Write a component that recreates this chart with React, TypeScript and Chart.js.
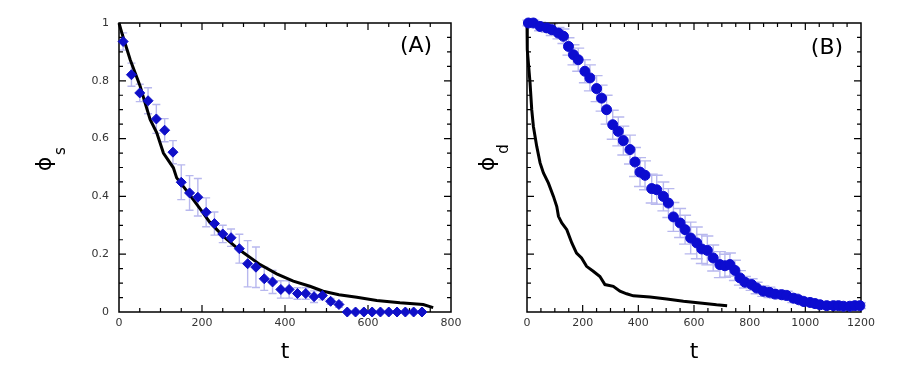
import { useEffect, useRef } from "react";
import { Chart, registerables } from "chart.js";
Chart.register(...registerables);

// ---------- Panel A data ----------
const tLineA = [0, 8, 27, 51, 63, 75, 91, 107, 131, 139, 160, 179, 200, 219, 240, 260, 280, 300, 340, 380, 420, 460, 492, 530, 573, 621, 677, 733, 757];
const phiLineA = [1.0, 0.96, 0.873, 0.781, 0.723, 0.666, 0.62, 0.55, 0.499, 0.464, 0.425, 0.389, 0.348, 0.31, 0.279, 0.251, 0.227, 0.205, 0.164, 0.132, 0.107, 0.089, 0.072, 0.06, 0.051, 0.04, 0.032, 0.026, 0.015];
const tDiamondA = [10, 30, 50, 70, 90, 110, 130, 150, 170, 190, 210, 230, 250, 270, 290, 310, 330, 350, 370, 390, 410, 430, 450, 470, 490, 510, 530, 550, 570, 590, 610, 630, 650, 670, 690, 710, 730];
const phiDiamondA = [0.936, 0.821, 0.758, 0.731, 0.668, 0.629, 0.553, 0.449, 0.412, 0.397, 0.345, 0.306, 0.27, 0.257, 0.219, 0.167, 0.155, 0.115, 0.104, 0.078, 0.078, 0.064, 0.064, 0.053, 0.057, 0.037, 0.026, 0, 0, 0, 0, 0, 0, 0, 0, 0, 0];
const errDiamondA = [0.03, 0.04, 0.03, 0.045, 0.05, 0.04, 0.04, 0.06, 0.06, 0.065, 0.05, 0.04, 0.03, 0.03, 0.05, 0.08, 0.07, 0.04, 0.04, 0.03, 0.03, 0.02, 0.02, 0.02, 0.015, 0.01, 0.01, 0, 0, 0, 0, 0, 0, 0, 0, 0, 0];
const xTicksA = [0, 200, 400, 600, 800];
const yTicksA = [0, 0.2, 0.4, 0.6, 0.8, 1];

// ---------- Panel B data ----------
const tLineB = [0, 1, 11, 17, 23, 35, 47, 59, 77, 95, 107, 113, 125, 143, 161, 178, 196, 214, 238, 262, 280, 310, 334, 358, 382, 442, 502, 562, 622, 681, 719];
const phiLineB = [1.0, 0.908, 0.792, 0.7, 0.642, 0.573, 0.516, 0.481, 0.446, 0.4, 0.365, 0.331, 0.308, 0.285, 0.239, 0.204, 0.187, 0.158, 0.141, 0.123, 0.095, 0.089, 0.072, 0.063, 0.056, 0.052, 0.045, 0.037, 0.031, 0.025, 0.022];
const tCircleB = [5, 23, 47, 71, 89, 113, 131, 149, 167, 184, 208, 226, 250, 268, 286, 308, 328, 346, 370, 388, 406, 424, 448, 466, 490, 508, 526, 550, 568, 588, 610, 628, 648, 669, 693, 711, 729, 747, 765, 783, 807, 825, 849, 871, 891, 915, 933, 957, 975, 995, 1017, 1035, 1053, 1077, 1101, 1119, 1137, 1160, 1178, 1196];
const phiCircleB = [1.0, 1.0, 0.988, 0.983, 0.977, 0.965, 0.954, 0.919, 0.89, 0.873, 0.833, 0.81, 0.773, 0.74, 0.7, 0.648, 0.625, 0.593, 0.562, 0.519, 0.484, 0.473, 0.427, 0.423, 0.4, 0.377, 0.329, 0.308, 0.285, 0.256, 0.239, 0.218, 0.213, 0.187, 0.164, 0.16, 0.164, 0.144, 0.118, 0.103, 0.095, 0.083, 0.072, 0.068, 0.062, 0.06, 0.057, 0.048, 0.043, 0.036, 0.033, 0.029, 0.025, 0.022, 0.022, 0.022, 0.02, 0.02, 0.022, 0.022];
const errCircleB = [0.01, 0.01, 0.015, 0.015, 0.02, 0.02, 0.025, 0.03, 0.035, 0.04, 0.04, 0.045, 0.045, 0.045, 0.05, 0.05, 0.05, 0.05, 0.05, 0.05, 0.05, 0.05, 0.05, 0.05, 0.05, 0.05, 0.05, 0.05, 0.05, 0.055, 0.055, 0.05, 0.05, 0.045, 0.045, 0.04, 0.04, 0.035, 0.025, 0.02, 0.02, 0.02, 0.018, 0.018, 0.015, 0.015, 0.015, 0.015, 0.012, 0.012, 0.012, 0.01, 0.01, 0.01, 0.01, 0.01, 0.01, 0.01, 0.01, 0.01];
const xTicksB = [0, 200, 400, 600, 800, 1000, 1200];
const yTicksB = [0, 0.2, 0.4, 0.6, 0.8, 1];

const FONT = "'DejaVu Sans', Verdana, sans-serif";
const ERR_COLOR = "rgb(184,184,238)";

type Panel = {
  lineT: number[]; lineV: number[];
  markT: number[]; markV: number[]; markErr: number[];
  markStyle: string; markRadius: number; markColor: string;
  xMax: number; xTicks: number[]; yTicks: number[]; showYLabels: boolean;
  xMinor: number; xMajor: number; yMinor: number; yMajor: number;
  yAxisWidth: number; padRight: number;
  phiPos: [number, number]; sub: string; subPos: [number, number];
  tPos: [number, number]; tag: string; tagPos: [number, number];
  capHalf: number;
};

function buildConfig(p: Panel): any {
  const decor = {
    id: "decor",
    beforeDatasetsDraw(chart: any) {
      const { ctx, chartArea: ca, scales } = chart;
      const xs = scales.x, ys = scales.y;
      ctx.save();
      // error bars
      ctx.strokeStyle = ERR_COLOR;
      ctx.lineWidth = 1.4;
      p.markT.forEach((t, i) => {
        const e = p.markErr[i];
        if (!e) return;
        const px = xs.getPixelForValue(t);
        const y1 = ys.getPixelForValue(p.markV[i] + e);
        const y2 = ys.getPixelForValue(p.markV[i] - e);
        ctx.beginPath();
        ctx.moveTo(px, y1); ctx.lineTo(px, y2);
        ctx.moveTo(px - p.capHalf, y1); ctx.lineTo(px + p.capHalf, y1);
        ctx.moveTo(px - p.capHalf, y2); ctx.lineTo(px + p.capHalf, y2);
        ctx.stroke();
      });
      // frame
      ctx.strokeStyle = "#000";
      ctx.lineWidth = 1.5;
      ctx.strokeRect(ca.left, ca.top, ca.right - ca.left, ca.bottom - ca.top);
      ctx.lineWidth = 1.2;
      ctx.beginPath();
      const nx = Math.round(p.xMax / p.xMinor);
      for (let k = 1; k < nx; k++) {
        const v = k * p.xMinor;
        const px = xs.getPixelForValue(v);
        const major = Math.abs(v / p.xMajor - Math.round(v / p.xMajor)) < 1e-6;
        const len = major ? 7 : 4;
        ctx.moveTo(px, ca.bottom); ctx.lineTo(px, ca.bottom - len);
        ctx.moveTo(px, ca.top); ctx.lineTo(px, ca.top + len);
      }
      const ny = Math.round(1 / p.yMinor);
      for (let k = 1; k < ny; k++) {
        const v = k * p.yMinor;
        const py = ys.getPixelForValue(v);
        const major = Math.abs(v / p.yMajor - Math.round(v / p.yMajor)) < 1e-6;
        const len = major ? 7 : 4;
        ctx.moveTo(ca.left, py); ctx.lineTo(ca.left + len, py);
        ctx.moveTo(ca.right, py); ctx.lineTo(ca.right - len, py);
      }
      ctx.stroke();
      ctx.restore();
    },
    afterDraw(chart: any) {
      const { ctx } = chart;
      ctx.save();
      ctx.fillStyle = "#000";
      ctx.textAlign = "center";
      ctx.textBaseline = "middle";
      // phi title (rotated)
      ctx.save();
      ctx.translate(p.phiPos[0], p.phiPos[1]);
      ctx.rotate(-Math.PI / 2);
      ctx.font = `22px ${FONT}`;
      ctx.fillText("\u03D5", 0, 0);
      ctx.restore();
      ctx.save();
      ctx.translate(p.subPos[0], p.subPos[1]);
      ctx.rotate(-Math.PI / 2);
      ctx.font = `15px ${FONT}`;
      ctx.fillText(p.sub, 0, 0);
      ctx.restore();
      // t title
      ctx.font = `22px ${FONT}`;
      ctx.fillText("t", p.tPos[0], p.tPos[1]);
      // panel tag
      ctx.font = `22px ${FONT}`;
      ctx.fillText(p.tag, p.tagPos[0], p.tagPos[1]);
      ctx.restore();
    },
  };

  return {
    type: "scatter",
    data: {
      datasets: [
        {
          data: p.lineT.map((t, i) => ({ x: t, y: p.lineV[i] })),
          showLine: true,
          borderColor: "#000",
          borderWidth: 3,
          pointRadius: 0,
          fill: false,
          order: 2,
          clip: false,
        },
        {
          data: p.markT.map((t, i) => ({ x: t, y: p.markV[i] })),
          showLine: false,
          pointStyle: p.markStyle,
          pointRadius: p.markRadius,
          backgroundColor: p.markColor,
          borderColor: p.markColor,
          borderWidth: 1,
          order: 1,
          clip: false,
        },
      ],
    },
    options: {
      responsive: false,
      animation: false,
      devicePixelRatio: 1,
      events: [],
      layout: { padding: { left: 0, top: 23, right: p.padRight, bottom: 0 } },
      plugins: { legend: { display: false }, tooltip: { enabled: false } },
      scales: {
        x: {
          type: "linear",
          min: 0,
          max: p.xMax,
          afterBuildTicks: (s: any) => { s.ticks = p.xTicks.map((v) => ({ value: v })); },
          afterFit: (s: any) => { s.height = 70; },
          ticks: {
            autoSkip: false,
            maxRotation: 0,
            padding: 5,
            color: "#333",
            font: { family: FONT, size: 11 },
            callback: (v: any) => String(v),
          },
          grid: { display: false, drawTicks: false },
          border: { display: false },
        },
        y: {
          type: "linear",
          min: 0,
          max: 1,
          afterBuildTicks: (s: any) => { s.ticks = p.yTicks.map((v) => ({ value: v })); },
          afterFit: (s: any) => { s.width = p.yAxisWidth; },
          ticks: {
            display: p.showYLabels,
            autoSkip: false,
            padding: 10,
            color: "#333",
            font: { family: FONT, size: 11 },
            callback: (v: any) => String(v),
          },
          grid: { display: false, drawTicks: false },
          border: { display: false },
        },
      },
    },
    plugins: [decor],
  };
}

const panelA: Panel = {
  lineT: tLineA, lineV: phiLineA,
  markT: tDiamondA, markV: phiDiamondA, markErr: errDiamondA,
  markStyle: "rectRot", markRadius: 5, markColor: "#0f0fc8",
  xMax: 800, xTicks: xTicksA, yTicks: yTicksA, showYLabels: true,
  xMinor: 50, xMajor: 200, yMinor: 0.05, yMajor: 0.2,
  yAxisWidth: 119, padRight: 24,
  phiPos: [45, 164], sub: "s", subPos: [61, 151],
  tPos: [285, 352], tag: "(A)", tagPos: [416, 46],
  capHalf: 4,
};

const panelB: Panel = {
  lineT: tLineB, lineV: phiLineB,
  markT: tCircleB, markV: phiCircleB, markErr: errCircleB,
  markStyle: "circle", markRadius: 5, markColor: "#0c0cd0",
  xMax: 1200, xTicks: xTicksB, yTicks: yTicksB, showYLabels: false,
  xMinor: 50, xMajor: 200, yMinor: 0.05, yMajor: 0.2,
  yAxisWidth: 52, padRight: 51,
  phiPos: [13, 164], sub: "d", subPos: [29, 149],
  tPos: [219, 352], tag: "(B)", tagPos: [352, 48],
  capHalf: 6,
};

export default function App() {
  const refA = useRef<HTMLCanvasElement>(null);
  const refB = useRef<HTMLCanvasElement>(null);
  useEffect(() => {
    const a = new Chart(refA.current as HTMLCanvasElement, buildConfig(panelA));
    const b = new Chart(refB.current as HTMLCanvasElement, buildConfig(panelB));
    return () => { a.destroy(); b.destroy(); };
  }, []);
  return (
    <div style={{ position: "absolute", left: 0, top: 0, width: 912, height: 382, background: "#fff" }}>
      <canvas ref={refA} width={475} height={382} style={{ position: "absolute", left: 0, top: 0, width: 475, height: 382 }} />
      <canvas ref={refB} width={437} height={382} style={{ position: "absolute", left: 475, top: 0, width: 437, height: 382 }} />
    </div>
  );
}
